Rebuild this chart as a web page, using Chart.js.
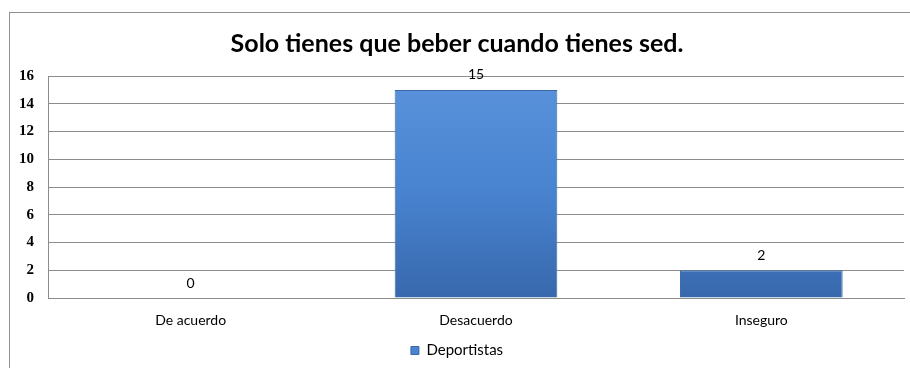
<!DOCTYPE html>
<html>
<head>
<meta charset="utf-8">
<script src="https://cdn.jsdelivr.net/npm/chart.js@4/dist/chart.umd.min.js"></script>
<style>
    html, body { margin: 0; padding: 0; background: #fff; overflow: hidden; }
    #frame {
        position: absolute; left: 9px; top: 12px;
        width: 920px; height: 370px;
        border-top: 1px solid #8f8f8f; border-left: 1px solid #8f8f8f;
    }
    #box { position: absolute; left: 0; top: 0; width: 910px; height: 355px; }
</style>
</head>
<body>
<div id="frame"><div id="box"><canvas id="chart"></canvas></div></div>
<script>
const titulo     = 'Solo tienes que beber cuando tienes sed.';
const categorias = ['De acuerdo', 'Desacuerdo', 'Inseguro'];
const serie      = 'Deportistas';
const valores    = [0, 15, 2];

const fuente = "Lato, 'Open Sans', sans-serif";

// Degradado vertical de las barras
function barFill(ctx) {
    const chart = ctx.chart;
    const area  = chart.chartArea;
    if (!area) return '#4a86d4';
    const g = chart.ctx.createLinearGradient(0, area.top, 0, area.bottom);
    g.addColorStop(0, '#5a93db');
    g.addColorStop(0.5, '#4984d1');
    g.addColorStop(1, '#3768ac');
    return g;
}

// Valor encima de cada barra
const etiquetasPlugin = {
    id: 'etiquetas',
    afterDatasetsDraw(chart) {
        const { ctx } = chart;
        const meta = chart.getDatasetMeta(0);
        ctx.save();
        ctx.font = '14px ' + fuente;
        ctx.fillStyle = '#000';
        ctx.textAlign = 'center';
        ctx.textBaseline = 'middle';
        meta.data.forEach((bar, i) => {
            ctx.fillText(valores[i], bar.x, bar.y - 15);
        });
        ctx.restore();
    }
};

new Chart(document.getElementById('chart').getContext('2d'), {
    type: 'bar',
    data: {
        labels: categorias,
        datasets: [{
            label: serie,
            data: valores,
            backgroundColor: barFill,
            borderColor: '#3a6aa6',
            borderWidth: 1,
            categoryPercentage: 1,
            barPercentage: 0.57
        }]
    },
    options: {
        responsive: true,
        maintainAspectRatio: false,
        animation: false,
        layout: { padding: { left: 0, right: 16, top: 0, bottom: 0 } },
        plugins: {
            tooltip: { enabled: false },
            title: {
                display: true,
                text: titulo,
                color: '#000',
                font: { family: fuente, size: 25, weight: 'bold', lineHeight: 1.2 },
                padding: { top: 16, bottom: 17 }
            },
            legend: {
                position: 'bottom',
                labels: {
                    color: '#000',
                    font: { family: fuente, size: 15 },
                    boxWidth: 8, boxHeight: 8,
                    padding: 9,
                    generateLabels: () => [{
                        text: serie,
                        fillStyle: '#4a84d0',
                        strokeStyle: '#3a6aa6',
                        lineWidth: 1,
                        datasetIndex: 0
                    }]
                }
            }
        },
        scales: {
            x: {
                grid: { display: false, drawTicks: false },
                border: { color: '#8c8c8c' },
                ticks: { color: '#000', font: { family: fuente, size: 14 }, padding: 14 },
                afterFit(scale) { scale.height = 36; }
            },
            y: {
                min: 0,
                max: 16,
                ticks: {
                    stepSize: 2,
                    color: '#000',
                    font: { family: "'Liberation Serif', serif", size: 15, weight: 'bold' },
                    padding: 14
                },
                grid: { color: '#8c8c8c', drawTicks: false },
                border: { color: '#8c8c8c' },
                afterFit(scale) { scale.width = 38; }
            }
        }
    },
    plugins: [etiquetasPlugin]
});
</script>
</body>
</html>
